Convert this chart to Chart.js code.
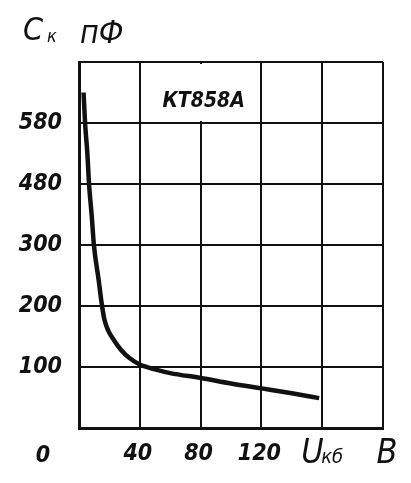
<!DOCTYPE html>
<html lang="ru">
<head>
<meta charset="UTF-8">
<title>КТ858А</title>
<script src="https://cdn.jsdelivr.net/npm/chart.js"></script>
<style>
  body { margin: 0; background: #fff; }
  canvas { display: block; }
</style>
</head>
<body>
<canvas id="ckChart" width="411" height="483"></canvas>
<script>
  // Uкб, В  ->  Ск, пФ
  const voltage  = [3, 4, 5.5, 6.6, 8.3, 9.8, 12.9, 15.1, 16.8, 19, 23, 27.7, 33, 40, 50, 60, 80, 100, 120, 140, 158];
  const capacity = [550, 500, 450, 400, 350, 300, 243, 201, 177, 161, 144, 128, 115, 104, 96, 90, 82, 73, 65, 57, 49];

  const xTickValues = [0, 40, 80, 120, 160, 200];
  const xTickLabels = ['', '40', '80', '120', '', ''];
  const yTickValues = [0, 100, 200, 300, 400, 500, 600];
  const yTickLabels = ['', '100', '200', '300', '480', '580', ''];
  const deviceName = 'КТ858А';

  const ink = '#111';
  const narrow = "'Liberation Sans Narrow', 'DejaVu Sans Condensed', 'DejaVu Sans', sans-serif";

  // подписи осей, "0" в углу и название прибора
  const labelsPlugin = {
    id: 'labels',
    afterDraw(chart) {
      const ctx = chart.ctx;
      const x = chart.scales.x, y = chart.scales.y;
      const area = chart.chartArea;
      ctx.save();
      ctx.fillStyle = ink;

      // окошко с названием (без вертикальной линии 80)
      const bx1 = x.getPixelForValue(40) + 2, bx2 = x.getPixelForValue(120) - 2;
      const by1 = y.getPixelForValue(600) + 2, by2 = y.getPixelForValue(500) - 2;
      ctx.fillStyle = '#fff';
      ctx.fillRect(bx1, by1, bx2 - bx1, by2 - by1);
      ctx.fillStyle = ink;
      ctx.font = 'italic bold 21px ' + narrow;
      ctx.textAlign = 'center';
      ctx.textBaseline = 'alphabetic';
      ctx.fillText(deviceName, x.getPixelForValue(80) + 3, by1 + 43);

      // Ск пФ
      ctx.textAlign = 'left';
      ctx.font = 'italic 32px ' + narrow;
      ctx.fillText('С', area.left - 56, area.top - 22);
      ctx.font = 'italic 18px ' + narrow;
      ctx.fillText('к', area.left - 32, area.top - 20);
      ctx.font = 'italic 32px ' + narrow;
      ctx.fillText('пФ', area.left + 1, area.top - 19);

      // 0 в углу
      ctx.font = 'italic bold 23px ' + narrow;
      ctx.textAlign = 'center';
      ctx.fillText('0', area.left - 36, area.bottom + 34);

      // Uкб  В
      ctx.textAlign = 'left';
      ctx.font = 'italic 34px ' + narrow;
      ctx.fillText('U', x.getPixelForValue(160) - 21, area.bottom + 35);
      ctx.font = 'italic 20px ' + narrow;
      ctx.fillText('кб', x.getPixelForValue(160) - 1, area.bottom + 35);
      ctx.font = 'italic 34px ' + narrow;
      ctx.textAlign = 'center';
      ctx.fillText('В', x.getPixelForValue(200) + 4, area.bottom + 35);
      ctx.restore();
    }
  };

  new Chart(document.getElementById('ckChart'), {
    type: 'line',
    data: {
      datasets: [{
        data: voltage.map((v, i) => ({ x: v, y: capacity[i] })),
        borderColor: ink,
        borderWidth: 4.5,
        pointRadius: 0,
        fill: false,
        cubicInterpolationMode: 'monotone'
      }]
    },
    options: {
      responsive: false,
      animation: false,
      layout: { padding: { left: 0, top: 62, right: 28, bottom: 0 } },
      plugins: { legend: { display: false }, tooltip: { enabled: false } },
      scales: {
        x: {
          type: 'linear',
          min: 0, max: 200,
          afterBuildTicks: s => { s.ticks = xTickValues.map(v => ({ value: v })); },
          afterFit: s => { s.height = 55; },
          grid: { color: ink, lineWidth: 2, drawTicks: false },
          border: { color: ink, width: 3 },
          ticks: {
            callback: v => xTickLabels[xTickValues.indexOf(v)],
            padding: 12,
            labelOffset: -2,
            maxRotation: 0,
            color: ink,
            font: { family: narrow, size: 23, style: 'italic', weight: 'bold' }
          }
        },
        y: {
          min: 0, max: 600,
          afterBuildTicks: s => { s.ticks = yTickValues.map(v => ({ value: v })); },
          afterFit: s => { s.width = 79; },
          grid: { color: ink, lineWidth: 2, drawTicks: false },
          border: { color: ink, width: 3 },
          ticks: {
            callback: v => yTickLabels[yTickValues.indexOf(v)],
            padding: 17,
            color: ink,
            font: { family: narrow, size: 23, style: 'italic', weight: 'bold' }
          }
        }
      }
    },
    plugins: [labelsPlugin]
  });
</script>
</body>
</html>
